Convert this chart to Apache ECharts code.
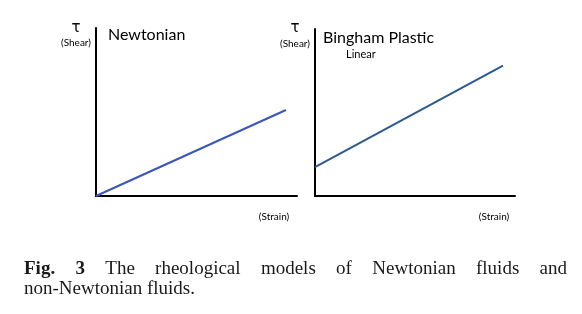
<!DOCTYPE html>
<html>
<head>
<meta charset="utf-8">
<script src="https://cdn.jsdelivr.net/npm/echarts@6/dist/echarts.min.js"></script>
<style>
html,body{margin:0;padding:0;background:#fff;}
#c{width:582px;height:314px;}
</style>
</head>
<body>
<div id="c"></div>
<script>
// Data
var newtonianStrain = [0, 9.45];
var newtonianShear = [0, 5.12];
var binghamStrain = [0, 9.4];
var binghamShear = [1.73, 7.8];
var panelTitles = ['Newtonian', 'Bingham Plastic'];
var subTitle = 'Linear';
var yName = 'τ';
var yUnit = '(Shear)';
var xUnit = '(Strain)';
var captionBold = ['Fig.', '3'];
var captionLine1 = 'The rheological models of Newtonian fluids and';
var captionLine2 = 'non-Newtonian fluids.';

var chart = echarts.init(document.getElementById('c'), null, {renderer: 'canvas'});
var sans = 'Lato, "Open Sans", sans-serif';
var serif = '"Liberation Serif", "DejaVu Serif", serif';

function pairs(xs, ys) { return xs.map(function (x, i) { return [x, ys[i]]; }); }

function axisX(idx) {
  return {type: 'value', gridIndex: idx, min: 0, max: 10,
    axisLine: {show: true, onZero: false, lineStyle: {color: '#000', width: 2}},
    axisTick: {show: false}, axisLabel: {show: false}, splitLine: {show: false}};
}
function axisY(idx) {
  return {type: 'value', gridIndex: idx, min: 0, max: 10,
    axisLine: {show: true, onZero: false, lineStyle: {color: '#000', width: 2}},
    axisTick: {show: false}, axisLabel: {show: false}, splitLine: {show: false}};
}

// Caption justification
var fs = 19;
var ctx = document.createElement('canvas').getContext('2d');
function measure(t, bold) { ctx.font = (bold ? 'bold ' : '') + fs + 'px ' + serif; return ctx.measureText(t).width; }
var capLeft = 24, capRight = 567;
var words = captionBold.map(function (w) { return {t: w, b: true}; })
  .concat(captionLine1.split(' ').map(function (w) { return {t: w, b: false}; }));
var total = 0;
words.forEach(function (w) { w.w = measure(w.t, w.b); total += w.w; });
var gap = (capRight - capLeft - total) / (words.length - 1);
var capGraphics = [];
var cx = capLeft;
words.forEach(function (w) {
  capGraphics.push({type: 'text', left: Math.round(cx * 10) / 10, top: 260,
    style: {text: w.t, font: (w.b ? 'bold ' : '') + fs + 'px ' + serif, fill: '#1a1a1a'}});
  cx += w.w + gap;
});
capGraphics.push({type: 'text', left: capLeft, top: 280,
  style: {text: captionLine2, font: fs + 'px ' + serif, fill: '#1a1a1a'}});

var option = {
  animation: false,
  backgroundColor: '#fff',
  grid: [
    {left: 96, top: 28, width: 201, height: 168},
    {left: 315, top: 29, width: 200, height: 167}
  ],
  xAxis: [axisX(0), axisX(1)],
  yAxis: [axisY(0), axisY(1)],
  series: [
    {type: 'line', xAxisIndex: 0, yAxisIndex: 0, data: pairs(newtonianStrain, newtonianShear),
      symbol: 'none', lineStyle: {color: '#3a56b8', width: 2}},
    {type: 'line', xAxisIndex: 1, yAxisIndex: 1, data: pairs(binghamStrain, binghamShear),
      symbol: 'none', lineStyle: {color: '#2c5a8e', width: 2}}
  ],
  graphic: [
    {type: 'text', x: 76, y: 28, style: {text: yName, font: '15px "DejaVu Sans", sans-serif', fill: '#000', align: 'center', verticalAlign: 'middle'}},
    {type: 'text', x: 76, y: 43, style: {text: yUnit, font: '10px ' + sans, fill: '#000', align: 'center', verticalAlign: 'middle'}},
    {type: 'text', x: 108, y: 35, style: {text: panelTitles[0], font: '16px ' + sans, fill: '#000', align: 'left', verticalAlign: 'middle'}},
    {type: 'text', x: 274, y: 217, style: {text: xUnit, font: '10px ' + sans, fill: '#000', align: 'center', verticalAlign: 'middle'}},
    {type: 'text', x: 295, y: 28, style: {text: yName, font: '15px "DejaVu Sans", sans-serif', fill: '#000', align: 'center', verticalAlign: 'middle'}},
    {type: 'text', x: 295, y: 44, style: {text: yUnit, font: '10px ' + sans, fill: '#000', align: 'center', verticalAlign: 'middle'}},
    {type: 'text', x: 323, y: 38, style: {text: panelTitles[1], font: '16px ' + sans, fill: '#000', align: 'left', verticalAlign: 'middle'}},
    {type: 'text', x: 346, y: 54, style: {text: subTitle, font: '11px ' + sans, fill: '#000', align: 'left', verticalAlign: 'middle'}},
    {type: 'text', x: 494, y: 217, style: {text: xUnit, font: '10px ' + sans, fill: '#000', align: 'center', verticalAlign: 'middle'}}
  ].concat(capGraphics)
};
chart.setOption(option);
</script>
</body>
</html>
